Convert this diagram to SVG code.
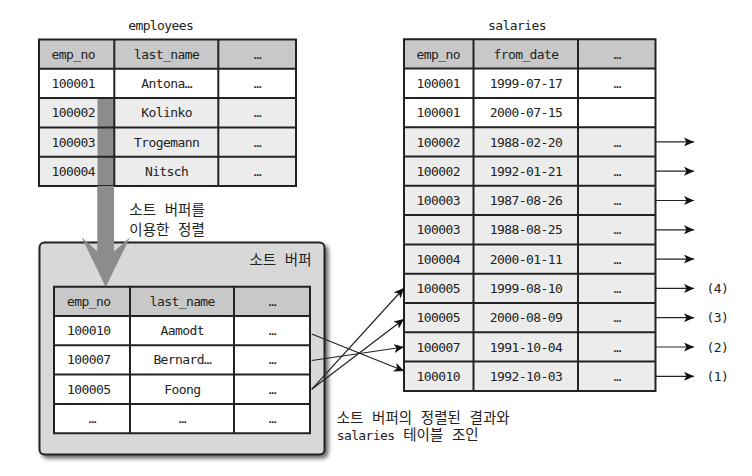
<svg xmlns="http://www.w3.org/2000/svg" width="752" height="476" viewBox="0 0 752 476">
<style>
  .t{font-family:"DejaVu Sans Mono","Liberation Mono",monospace;font-size:13px;letter-spacing:-0.6px;fill:#222}
  .m{text-anchor:middle}
  .k{font-family:"DejaVu Sans Mono","Noto Sans CJK KR",sans-serif;font-size:14.5px;fill:#222}
  .hd{fill:#c8c8c8}
  .wh{fill:#ffffff}
  .gr{fill:#ececec}
  .grid{stroke:#222;stroke-width:2;fill:none}
  .conn{stroke:#222;stroke-width:1.2;fill:none}
</style>
<defs>
  <marker id="ah" markerUnits="userSpaceOnUse" markerWidth="11" markerHeight="9" refX="10" refY="4.5" orient="auto">
    <path d="M0,0 L10,4.5 L0,9 L2.5,4.5 Z" fill="#111"/>
  </marker>
  <filter id="sh" x="-10%" y="-10%" width="125%" height="125%">
    <feGaussianBlur in="SourceAlpha" stdDeviation="2"/>
    <feOffset dx="3" dy="3" result="b"/>
    <feComponentTransfer><feFuncA type="linear" slope="0.6"/></feComponentTransfer>
    <feMerge><feMergeNode/><feMergeNode in="SourceGraphic"/></feMerge>
  </filter>
</defs>
<rect width="752" height="476" fill="#ffffff"/>

<!-- sort buffer container -->
<g id="sort-buffer">
  <rect x="39.5" y="242.5" width="285" height="212" rx="5" fill="#d8d8d8" stroke="#222" stroke-width="2" filter="url(#sh)"/>
  <text class="k" x="311.5" y="265" text-anchor="end">소트 버퍼</text>
</g>

<!-- employees table -->
<g id="employees">
  <text class="t m" x="160.7" y="29.5">employees</text>
  <rect class="hd" x="39" y="39.5" width="257" height="29.3"/>
  <rect class="wh" x="39" y="68.8" width="257" height="29.3"/>
  <rect class="gr" x="39" y="98.1" width="257" height="87.9"/>
  <!-- big arrow shaft -->
  <rect x="97.5" y="98.1" width="16.5" height="154" fill="#8c8c8c"/>
  <path class="grid" d="M39,39.5 H296 V186 H39 Z M114.3,39.5 V186 M218.3,39.5 V186 M39,68.8 H296 M39,98.1 H296 M39,127.4 H296 M39,156.7 H296"/>
  <text class="t" x="51.5" y="58.6">emp_no</text>
  <text class="t m" x="166.6" y="58.6">last_name</text>
  <text class="t m" x="257.3" y="58.6">…</text>
  <text class="t" x="51.5" y="87.9">100001</text>
  <text class="t m" x="166.6" y="87.9">Antona…</text>
  <text class="t m" x="257.3" y="87.9">…</text>
  <text class="t" x="51.5" y="117.2">100002</text>
  <text class="t m" x="166.6" y="117.2">Kolinko</text>
  <text class="t m" x="257.3" y="117.2">…</text>
  <text class="t" x="51.5" y="146.5">100003</text>
  <text class="t m" x="166.6" y="146.5">Trogemann</text>
  <text class="t m" x="257.3" y="146.5">…</text>
  <text class="t" x="51.5" y="175.8">100004</text>
  <text class="t m" x="166.6" y="175.8">Nitsch</text>
  <text class="t m" x="257.3" y="175.8">…</text>
</g>

<!-- big sort arrow -->
<g id="sort-arrow">
  <rect x="97.5" y="186" width="16.5" height="66" fill="#8c8c8c"/>
  <path d="M97.5,251.5 L81.7,237.3 L105.7,287 L130,237.3 L114,251.5 Z" fill="#8c8c8c"/>
  <text class="k" x="129.3" y="215">소트 버퍼를</text>
  <text class="k" x="129.3" y="235">이용한 정렬</text>
</g>

<!-- sort buffer table -->
<g id="buffer-table">
  <rect class="hd" x="54" y="286.7" width="256" height="29.3"/>
  <rect class="wh" x="54" y="316" width="256" height="117.2"/>
  <path class="grid" d="M54,286.7 H310 V433.2 H54 Z M130,286.7 V433.2 M234,286.7 V433.2 M54,316 H310 M54,345.3 H310 M54,374.6 H310 M54,403.9 H310"/>
  <text class="t" x="67" y="305.8">emp_no</text>
  <text class="t m" x="182.3" y="305.8">last_name</text>
  <text class="t m" x="272.3" y="305.8">…</text>
  <text class="t" x="67" y="335.1">100010</text>
  <text class="t m" x="182.3" y="335.1">Aamodt</text>
  <text class="t m" x="272.3" y="335.1">…</text>
  <text class="t" x="67" y="364.4">100007</text>
  <text class="t m" x="182.3" y="364.4">Bernard…</text>
  <text class="t m" x="272.3" y="364.4">…</text>
  <text class="t" x="67" y="393.7">100005</text>
  <text class="t m" x="182.3" y="393.7">Foong</text>
  <text class="t m" x="272.3" y="393.7">…</text>
  <text class="t m" x="92.3" y="423">…</text>
  <text class="t m" x="182.3" y="423">…</text>
  <text class="t m" x="272.3" y="423">…</text>
</g>

<!-- salaries table -->
<g id="salaries">
  <text class="t m" x="517" y="29.5">salaries</text>
  <rect class="hd" x="404" y="39.3" width="251.5" height="29.3"/>
  <rect class="wh" x="404" y="68.6" width="251.5" height="58.6"/>
  <rect class="gr" x="404" y="127.2" width="251.5" height="263.7"/>
  <path class="grid" d="M404,39.3 H655.5 V390.9 H404 Z M473.5,39.3 V390.9 M578,39.3 V390.9 M404,68.6 H655.5 M404,97.9 H655.5 M404,127.2 H655.5 M404,156.5 H655.5 M404,185.8 H655.5 M404,215.1 H655.5 M404,244.4 H655.5 M404,273.7 H655.5 M404,303 H655.5 M404,332.3 H655.5 M404,361.6 H655.5"/>
  <text class="t" x="416.5" y="58.6">emp_no</text>
  <text class="t m" x="526" y="58.6">from_date</text>
  <text class="t m" x="617" y="58.6">…</text>
  <text class="t" x="416.5" y="87.9">100001</text><text class="t m" x="526" y="87.9">1999-07-17</text><text class="t m" x="617" y="87.9">…</text>
  <text class="t" x="416.5" y="117.2">100001</text><text class="t m" x="526" y="117.2">2000-07-15</text>
  <text class="t" x="416.5" y="146.5">100002</text><text class="t m" x="526" y="146.5">1988-02-20</text><text class="t m" x="617" y="146.5">…</text>
  <text class="t" x="416.5" y="175.8">100002</text><text class="t m" x="526" y="175.8">1992-01-21</text><text class="t m" x="617" y="175.8">…</text>
  <text class="t" x="416.5" y="205.1">100003</text><text class="t m" x="526" y="205.1">1987-08-26</text><text class="t m" x="617" y="205.1">…</text>
  <text class="t" x="416.5" y="234.4">100003</text><text class="t m" x="526" y="234.4">1988-08-25</text><text class="t m" x="617" y="234.4">…</text>
  <text class="t" x="416.5" y="263.7">100004</text><text class="t m" x="526" y="263.7">2000-01-11</text><text class="t m" x="617" y="263.7">…</text>
  <text class="t" x="416.5" y="293">100005</text><text class="t m" x="526" y="293">1999-08-10</text><text class="t m" x="617" y="293">…</text>
  <text class="t" x="416.5" y="322.3">100005</text><text class="t m" x="526" y="322.3">2000-08-09</text><text class="t m" x="617" y="322.3">…</text>
  <text class="t" x="416.5" y="351.6">100007</text><text class="t m" x="526" y="351.6">1991-10-04</text><text class="t m" x="617" y="351.6">…</text>
  <text class="t" x="416.5" y="380.9">100010</text><text class="t m" x="526" y="380.9">1992-10-03</text><text class="t m" x="617" y="380.9">…</text>
</g>

<!-- connectors -->
<g id="connectors">
  <path class="conn" marker-end="url(#ah)" d="M311.7,334 L404,371"/>
  <path class="conn" marker-end="url(#ah)" d="M311.7,360.5 L404,347"/>
  <path class="conn" marker-end="url(#ah)" d="M311.7,389.3 L404,288"/>
  <path class="conn" marker-end="url(#ah)" d="M311.7,389.3 L404,319"/>
  <path class="conn" marker-end="url(#ah)" d="M655.5,141.9 H694"/>
  <path class="conn" marker-end="url(#ah)" d="M655.5,171.2 H694"/>
  <path class="conn" marker-end="url(#ah)" d="M655.5,200.5 H694"/>
  <path class="conn" marker-end="url(#ah)" d="M655.5,229.8 H694"/>
  <path class="conn" marker-end="url(#ah)" d="M655.5,259.1 H694"/>
  <path class="conn" marker-end="url(#ah)" d="M655.5,288.4 H694"/>
  <path class="conn" marker-end="url(#ah)" d="M655.5,317.7 H694"/>
  <path class="conn" marker-end="url(#ah)" d="M655.5,347 H694"/>
  <path class="conn" marker-end="url(#ah)" d="M655.5,376.3 H694"/>
</g>

<!-- labels -->
<g id="labels">
  <text class="t" x="706.5" y="293">(4)</text>
  <text class="t" x="706.5" y="322.3">(3)</text>
  <text class="t" x="706.5" y="351.6">(2)</text>
  <text class="t" x="706.5" y="380.9">(1)</text>
  <text class="k" x="336.7" y="423">소트 버퍼의 정렬된 결과와</text>
  <text class="k" x="336.7" y="440"><tspan style="font-size:13px;letter-spacing:-0.6px">salaries</tspan> 테이블 조인</text>
</g>
</svg>
